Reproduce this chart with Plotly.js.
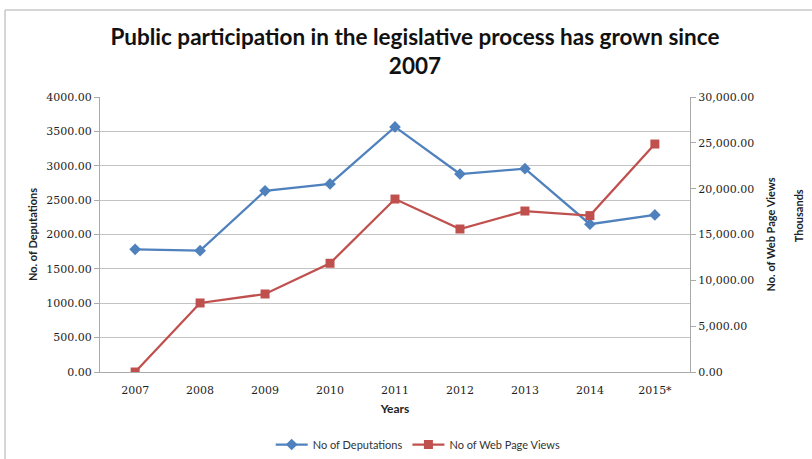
<!DOCTYPE html>
<html>
<head>
<meta charset="utf-8">
<script src="https://cdn.plot.ly/plotly-3.0.1.min.js"></script>
<style>
html,body{margin:0;padding:0;background:#fff;}
#chart{width:812px;height:459px;}
</style>
</head>
<body>
<div id="chart"></div>
<script>
const years = ["2007","2008","2009","2010","2011","2012","2013","2014","2015*"];
const deputations = [1785, 1765, 2635, 2735, 3565, 2880, 2958, 2150, 2285];
const webPageViews = [0, 7530, 8510, 11860, 18870, 15600, 17560, 17060, 24870];

const tickFont = {family: "DejaVu Serif, Liberation Serif, serif", size: 11, color: "#1e1e1e"};
const labelFont = {family: "Lato, Open Sans, sans-serif", size: 12, color: "#222"};

const traces = [
  {
    x: years, y: deputations, name: "No of Deputations", type: "scatter", mode: "lines+markers",
    line: {color: "#4F81BD", width: 2.25},
    marker: {symbol: "diamond", size: 9, color: "#4F81BD"},
    yaxis: "y"
  },
  {
    x: years, y: webPageViews, name: "No of Web Page Views", type: "scatter", mode: "lines+markers",
    line: {color: "#C0504D", width: 2.25},
    marker: {symbol: "square", size: 9, color: "#C0504D"},
    yaxis: "y2"
  }
];

const layout = {
  width: 812, height: 459,
  margin: {l: 100, r: 122, t: 97, b: 87},
  paper_bgcolor: "#fff", plot_bgcolor: "#fff",
  showlegend: true,
  title: {
    text: "<b>Public participation in the legislative process has grown since<br>2007</b>",
    font: {family: "Lato, Open Sans, sans-serif", size: 22.5, color: "#111"},
    x: 0.511, xref: "container", xanchor: "center",
    y: 0.903, yref: "container", yanchor: "top"
  },
  xaxis: {
    type: "category",
    tickfont: tickFont,
    showgrid: false, zeroline: false,
    showline: true, linecolor: "#aaa", linewidth: 1,
    ticks: "", ticklen: 0, ticklabelstandoff: 8,
    title: {text: "<b>Years</b>", font: labelFont, standoff: 8},
    mirror: false
  },
  yaxis: {
    range: [0, 4000], dtick: 500, tickformat: ".2f",
    tickfont: tickFont,
    showgrid: true, gridcolor: "#c3c3c3", gridwidth: 1,
    zeroline: false,
    showline: true, linecolor: "#aaa", linewidth: 1,
    ticks: "outside", ticklen: 5, tickcolor: "#aaa",
    title: {text: "<b>No. of Deputations</b>", font: {family: "Lato, Open Sans, sans-serif", size: 11, color: "#222"}, standoff: 6}
  },
  yaxis2: {
    overlaying: "y", side: "right",
    range: [0, 30000], dtick: 5000, tickformat: ",.2f",
    tickfont: tickFont,
    showgrid: false, zeroline: false,
    showline: true, linecolor: "#aaa", linewidth: 1,
    ticks: "outside", ticklen: 5, tickcolor: "#aaa",
    title: {text: "<b>No. of Web Page Views</b>", font: {family: "Lato, Open Sans, sans-serif", size: 11, color: "#222"}, standoff: 14}
  },
  legend: {
    orientation: "h",
    x: 0.515, xref: "container", xanchor: "center",
    y: -0.008, yref: "container", yanchor: "bottom",
    font: {family: "Lato, Open Sans, sans-serif", size: 11, color: "#333"},
    itemwidth: 32
  },
  annotations: [
    {
      text: "<b>Thousands</b>", textangle: -90,
      xref: "paper", yref: "paper", x: 1.183, y: 0.57,
      xanchor: "center", yanchor: "middle", showarrow: false,
      font: {family: "Lato, Open Sans, sans-serif", size: 11, color: "#222"}
    }
  ],
  shapes: [
    {type: "line", xref: "paper", yref: "paper", x0: -0.161, x1: -0.161, y0: 1.316, y1: -0.4, line: {color: "#c8c8c8", width: 1.5}},
    {type: "line", xref: "paper", yref: "paper", x0: -0.161, x1: 1.3, y0: 1.316, y1: 1.316, line: {color: "#c8c8c8", width: 1.5}}
  ]
};

Plotly.newPlot("chart", traces, layout, {displayModeBar: false, staticPlot: true});
</script>
</body>
</html>
